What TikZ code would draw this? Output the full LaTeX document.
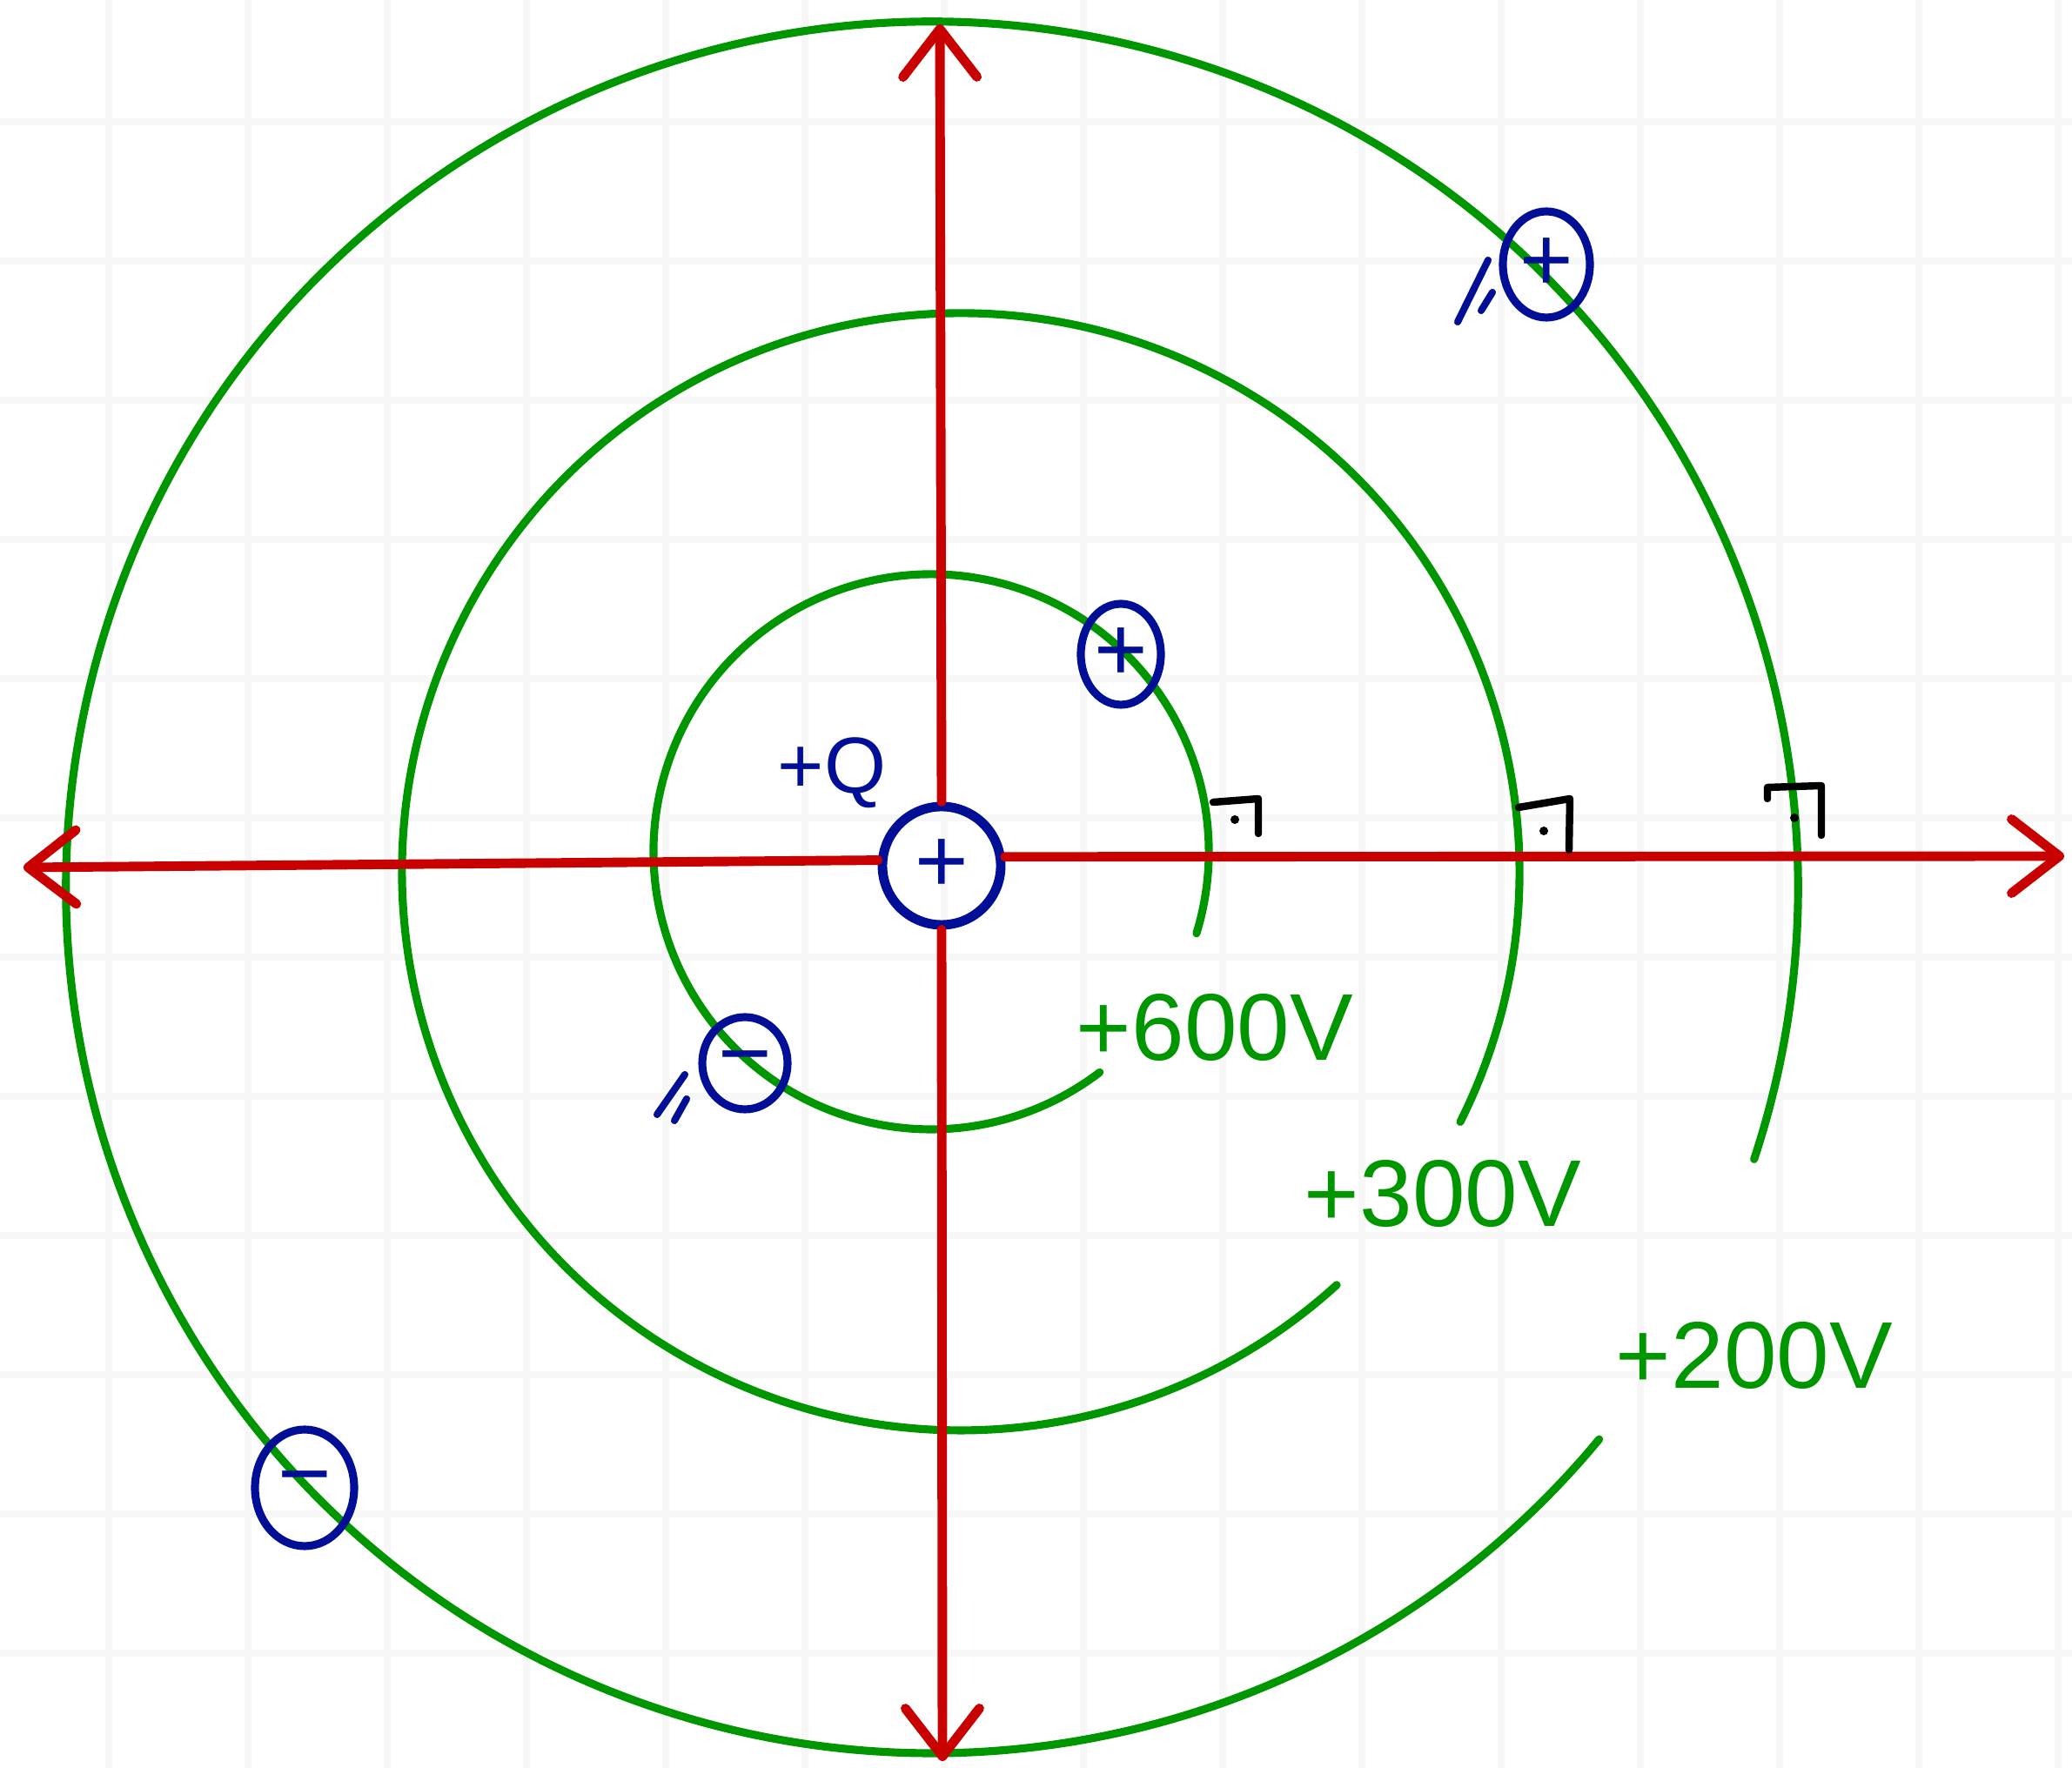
\documentclass[tikz,border=0pt]{standalone}
\usepackage{fontspec}
\setmainfont{Liberation Sans}
\usetikzlibrary{arrows.meta, positioning, shapes.geometric}
\definecolor{axred}{HTML}{C80000}
\definecolor{eqgreen}{HTML}{009600}
\definecolor{chblue}{HTML}{000F96}
\tikzset{
  >=Latex,
  axisline/.style={draw=axred, line width=3.1pt, line cap=round,
    -{Straight Barb[length=5.5mm, width=8.5mm, round]}},
  equi/.style={draw=eqgreen, line width=2.6pt, line cap=round},
  charge/.style={
    ellipse, draw=chblue, line width=2.6pt, inner sep=0pt,
    text=chblue, font=\fontsize{30}{30}\selectfont
  },
  vlab/.style={text=eqgreen, font=\fontsize{31}{31}\selectfont},
  rmark/.style={draw=black, line width=2.4pt, line cap=round, line join=round},
  ticks/.style={draw=chblue, line width=2.3pt, line cap=round}
}
\begin{document}
\begin{tikzpicture}
  \useasboundingbox (0,0) rectangle (23.81,20.32);
  % faint paper grid
  \foreach \k in {0,...,14}
    \draw[black!3, line width=2.3pt] (1.25+1.6*\k,0) -- (1.25+1.6*\k,20.32);
  \foreach \k in {0,...,11}
    \draw[black!3, line width=2.3pt] (0,18.92-1.6*\k) -- (23.81,18.92-1.6*\k);
  % equipotentials, left open where the labels sit
  \draw[equi] (10.70,10.53) ++(-17.1:3.19) arc[start angle=-17.1, end angle=307.4, radius=3.19];
  \draw[equi] (11.04,10.30) ++(-26.6:6.42) arc[start angle=-26.6, end angle=312.3, radius=6.42];
  \draw[equi] (10.71,10.12) ++(-18.3:9.95) arc[start angle=-18.3, end angle=320.4, radius=9.95];
  \node[vlab] (v600) at (13.96,8.51) {+600V};
  \node[vlab] (v300) at (16.58,6.60) {+300V};
  \node[vlab] (v200) at (20.16,4.74) {+200V};
  % charges
  \node[charge, line width=3.1pt, minimum width=1.36cm, minimum height=1.36cm] (q0) at (10.82,10.37) {+};
  \node[charge, minimum width=0.92cm, minimum height=1.16cm] (qa) at (12.88,12.80) {+};
  \node[charge, minimum width=0.98cm, minimum height=1.06cm] (qb) at (8.56,8.10) {\raisebox{-7pt}[0pt][0pt]{−}};
  \node[charge, minimum width=1.00cm, minimum height=1.22cm] (qc) at (17.77,17.28) {+};
  \node[charge, minimum width=1.14cm, minimum height=1.34cm] (qd) at (3.50,3.22) {−};
  \node[text=chblue, font=\fontsize{26}{26}\selectfont] (qlab) at (9.56,11.44) {+Q};
  % axes
  \coordinate (xneg) at (0.27,10.35);
  \coordinate (xpos) at (23.72,10.48);
  \coordinate (ypos) at (10.80,20.04);
  \coordinate (yneg) at (10.83,0.08);
  \draw[axisline] (q0.175) -- (xneg);
  \draw[axisline] (q0.8) -- (xpos);
  \draw[axisline] (q0.north) -- (ypos);
  \draw[axisline] (q0.south) -- (yneg);
  % right angle marks
  \draw[rmark] (13.94,11.10) -- (14.46,11.14) -- (14.46,10.74);
  \fill (14.19,10.90) circle (0.05);
  \draw[rmark] (17.45,11.04) -- (18.04,11.14) -- (18.03,10.55);
  \fill (17.74,10.77) circle (0.05);
  \draw[rmark] (20.31,11.14) -- (20.31,11.27) -- (20.93,11.29) -- (20.93,10.72);
  \fill (20.62,10.92) circle (0.05);
  % little strokes next to two charges
  \draw[ticks] (16.75,16.62) -- (17.10,17.33);
  \draw[ticks] (17.02,16.75) -- (17.15,16.96);
  \draw[ticks] (7.55,7.51) -- (7.87,7.97);
  \draw[ticks] (7.75,7.44) -- (7.89,7.69);
\end{tikzpicture}
\end{document}
